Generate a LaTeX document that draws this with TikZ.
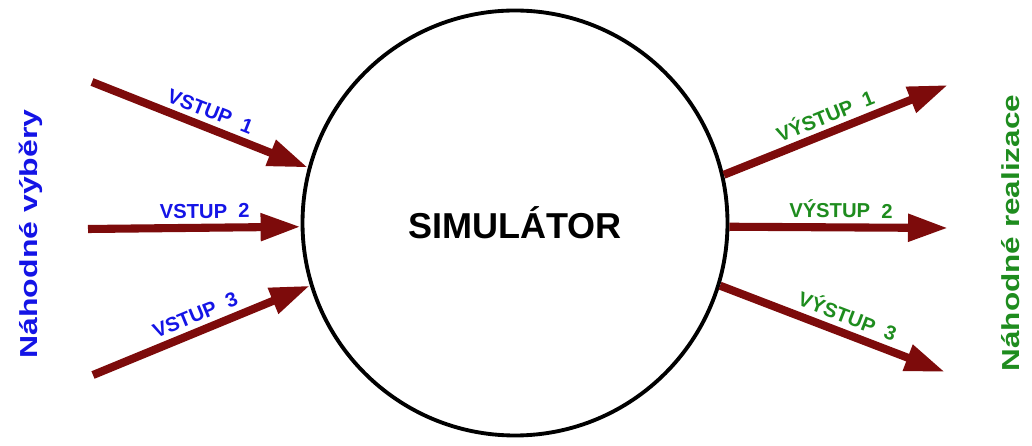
\documentclass[tikz,border=0pt]{standalone}
\usepackage{fontspec}
\setmainfont{Liberation Sans}
\usetikzlibrary{arrows.meta,positioning,calc}
\definecolor{arrowred}{HTML}{7D0B0B}
\definecolor{inblue}{HTML}{1414E6}
\definecolor{outgreen}{HTML}{1E8C1E}

\begin{document}
\begin{tikzpicture}[
  simcircle/.style={circle, draw, line width=2.2pt, minimum size=8.5cm, inner sep=0pt, font=\fontsize{20.5}{24}\selectfont\bfseries},
  arr/.style={-{Triangle[length=0.8cm, width=0.52cm]}, line width=4.6pt, arrowred},
  inlabel/.style={sloped, above, inner sep=3pt, text=inblue, font=\fontsize{11.5}{13}\selectfont\bfseries},
  outlabel/.style={sloped, above, inner sep=3pt, text=outgreen, font=\fontsize{11.5}{13}\selectfont\bfseries},
  sidelabel/.style={rotate=90, inner sep=0pt, font=\fontsize{14}{16}\selectfont\bfseries}
]
  \useasboundingbox (0,0) rectangle (20.64,8.92);

  \node[simcircle] (sim) at (10.30,4.46) {SIMULÁTOR};

  % free ends of the connectors
  \coordinate (in1) at (1.84,7.28);
  \coordinate (in2) at (1.76,4.34);
  \coordinate (in3) at (1.86,1.42);
  \coordinate (out1) at (18.96,7.22);
  \coordinate (out2) at (18.96,4.36);
  \coordinate (out3) at (18.90,1.48);

  \draw[arr] (in1) -- node[inlabel, pos=0.52] {VSTUP\ \ 1} (sim.165.6);
  \draw[arr] (in2) -- node[inlabel, pos=0.55] {VSTUP\ \ 2} (sim.181.6);
  \draw[arr] (in3) -- node[inlabel, pos=0.5] {VSTUP\ \ 3} (sim.197.5);

  \draw[arr] (sim.13.6) -- node[outlabel, pos=0.48] {VÝSTUP\ \ 1} (out1);
  \draw[arr] (sim.-1.4) -- node[outlabel, pos=0.51] {VÝSTUP\ \ 2} (out2);
  \draw[arr] (sim.-17) -- node[outlabel, pos=0.54] {VÝSTUP\ \ 3} (out3);

  \node[sidelabel, text=inblue] (samples) at (0.62,4.24) {\scalebox{1.3}[1]{Náhodné výběry}};
  \node[sidelabel, text=outgreen] (realis) at (20.22,4.26) {\scalebox{1.28}[1]{Náhodné realizace}};
\end{tikzpicture}
\end{document}
